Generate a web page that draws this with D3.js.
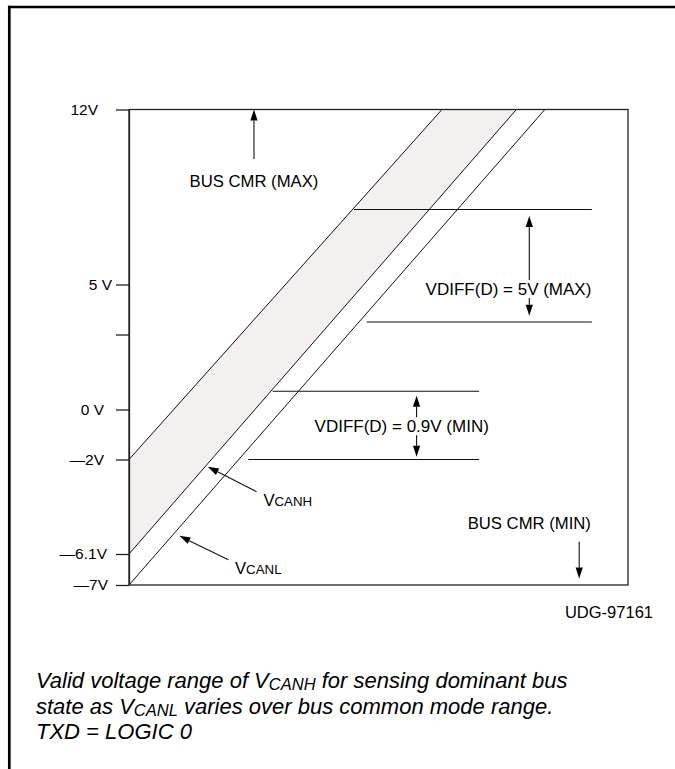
<!DOCTYPE html>
<html><head><meta charset="utf-8">
<script src="https://cdn.jsdelivr.net/npm/d3@7"></script>
<style>
html,body{margin:0;padding:0;background:#fff;}
svg{display:block;font-family:"Liberation Sans",Arial,Helvetica,sans-serif;}
</style></head><body>
<svg id="chart" width="675" height="769"></svg>
<script>
// ---- data (volts) ----
const yTickValues = [12, 5, 3, 0, -2, -6.1, -7];
const yTickLabels = ["12V", "5 V", "", "0 V", "\u20142V", "\u20146.1V", "\u20147V"];
const yBreaks = [-7, -6.1, -2, 12];        // drawn axis is not to scale below -2 V
const xDomain = [-7, 15.8];                // VCANL common-mode voltage
const vcanlLine = [[-7, -7], [12, 12]];
const vcanhLine = [[-7, -6.1], [10.7, 12]];
const vcanhMaxLine = [[-7, -2], [7.3, 12]];
const vdiffMaxLevels = [{y: 8.0, x0: 3.28, x1: 14.15}, {y: 3.5, x0: 3.86, x1: 14.15}];
const vdiffMinLevels = [{y: 0.73, x0: -0.44, x1: 9.0}, {y: -2.0, x0: -1.55, x1: 9.0}];
const vdiffMaxArrow = {x: 11.29, y0: 7.74, y1: 3.75, label: "VDIFF(D) = 5V (MAX)", tx: 10.34, ty: 4.6};
const vdiffMinArrow = {x: 6.14, y0: 0.55, y1: -1.89, label: "VDIFF(D) = 0.9V (MIN)", tx: 5.46, ty: -0.89};
const busMaxArrow = {x: -1.29, from: 10.02, to: 12, label: "BUS CMR (MAX)", tx: -1.29, ty: 8.9};
const busMinArrow = {x: 13.57, from: -5.57, to: -6.81, label: "BUS CMR (MIN)", tx: 11.29, ty: -5.0};
const vcanhLabel = {x0: -1.17, y0: -3.40, x1: -3.40, y1: -2.31, main: "V", sub: "CANH", tx: -0.86, ty: -4.0};
const vcanlLabel = {x0: -2.46, y0: -6.27, x1: -4.70, y1: -5.31, main: "V", sub: "CANL", tx: -2.16, ty: -6.69};
const udgLabel = "UDG-97161";
const captionLines = [
  [["Valid voltage range of V", false], ["CANH", true], [" for sensing dominant bus", false]],
  [["state as V", false], ["CANL", true], [" varies over bus common mode range.", false]],
  [["TXD = LOGIC 0", false]]
];

// ---- layout ----
const svg = d3.select("#chart");
const plot = {left: 129, right: 628, top: 109.5, bottom: 585};
const x = d3.scaleLinear().domain(xDomain).range([plot.left, plot.right]);
const y = d3.scaleLinear().domain(yBreaks).range([585, 554, 459.5, 109.5]);
// per-label right-edge offsets of the tick labels, as drawn in the original
const tickLabelShift = {"12V": -9, "5 V": 5, "0 V": -3, "\u20142V": -3, "\u20146.1V": 0, "\u20147V": 1};

// outer frame (top and left edges visible)
svg.append("line").attr("x1", 9.3).attr("x2", 9.3).attr("y1", 5.7).attr("y2", 769)
  .attr("stroke", "#000").attr("stroke-width", 2.7);
svg.append("line").attr("x1", 8).attr("x2", 675).attr("y1", 7).attr("y2", 7)
  .attr("stroke", "#000").attr("stroke-width", 2.7);

// shaded valid region
const region = [vcanhMaxLine[0], vcanhMaxLine[1], vcanhLine[1], vcanhLine[0]];
svg.append("path")
  .attr("d", d3.line().x(d => x(d[0])).y(d => y(d[1]))(region) + "Z")
  .attr("fill", "#f4f0f0").attr("stroke", "none");

// diagonal lines
const lineGen = d3.line().x(d => x(d[0])).y(d => y(d[1]));
[vcanlLine, vcanhLine, vcanhMaxLine].forEach(l => {
  svg.append("path").attr("d", lineGen(l)).attr("fill", "none")
    .attr("stroke", "#111").attr("stroke-width", 1);
});

// plot frame
svg.append("rect").attr("x", plot.left).attr("y", plot.top)
  .attr("width", plot.right - plot.left).attr("height", plot.bottom - plot.top)
  .attr("fill", "none").attr("stroke", "#222").attr("stroke-width", 1.3);

// y axis
const yAxis = d3.axisLeft(y).tickValues(yTickValues)
  .tickFormat((d, i) => yTickLabels[i]).tickSize(13).tickSizeOuter(0).tickPadding(9);
const gAxis = svg.append("g").attr("transform", `translate(${plot.left},0)`).call(yAxis);
gAxis.select(".domain").attr("stroke", "#222").attr("stroke-width", 1.3);
gAxis.selectAll(".tick line").attr("stroke", "#222").attr("stroke-width", 1.3);
gAxis.selectAll(".tick text").attr("fill", "#000").style("font-size", "15.5px")
  .style("font-family", "'Liberation Sans',Arial,sans-serif")
  .attr("dx", function() { return tickLabelShift[this.textContent] || 0; });

// level lines
[...vdiffMaxLevels, ...vdiffMinLevels].forEach(l => {
  svg.append("line").attr("x1", x(l.x0)).attr("x2", x(l.x1))
    .attr("y1", y(l.y)).attr("y2", y(l.y))
    .attr("stroke", "#111").attr("stroke-width", 1.2);
});

// arrow helper (pixel coords)
function arrow(x1, y1, x2, y2, len = 11, hw = 3.6) {
  const dx = x2 - x1, dy = y2 - y1, L = Math.hypot(dx, dy);
  const ux = dx / L, uy = dy / L;
  const bx = x2 - ux * len, by = y2 - uy * len;
  svg.append("line").attr("x1", x1).attr("y1", y1).attr("x2", bx).attr("y2", by)
    .attr("stroke", "#111").attr("stroke-width", 1.1);
  svg.append("path").attr("d",
    `M${x2},${y2}L${bx - uy * hw},${by + ux * hw}L${bx + uy * hw},${by - ux * hw}Z`)
    .attr("fill", "#000");
}

function labelWithBg(text, px, py, anchor, size) {
  const t = svg.append("text").attr("x", px).attr("y", py).attr("text-anchor", anchor)
    .style("font-size", size + "px").attr("fill", "#000").text(text);
  const bb = t.node().getBBox();
  svg.insert("rect", () => t.node()).attr("x", bb.x - 1).attr("y", bb.y + 0.5)
    .attr("width", bb.width + 2).attr("height", bb.height - 1).attr("fill", "#fff");
  return t;
}

// VDIFF double arrows
[vdiffMaxArrow, vdiffMinArrow].forEach(a => {
  const xm = x(a.x), ym = (y(a.y0) + y(a.y1)) / 2;
  arrow(xm, ym, xm, y(a.y0));
  arrow(xm, ym, xm, y(a.y1));
  labelWithBg(a.label, x(a.tx), y(a.ty), "middle", 17);
});

// bus CMR arrows
[busMaxArrow, busMinArrow].forEach(a => {
  arrow(x(a.x), y(a.from), x(a.x), y(a.to));
  svg.append("text").attr("x", x(a.tx)).attr("y", y(a.ty)).attr("text-anchor", "middle")
    .style("font-size", "16.7px").attr("fill", "#000").text(a.label);
});

// VCANH / VCANL labels
[vcanhLabel, vcanlLabel].forEach(a => {
  arrow(x(a.x0), y(a.y0), x(a.x1), y(a.y1), 11, 3.6);
  const t = svg.append("text").attr("x", x(a.tx)).attr("y", y(a.ty)).attr("fill", "#000");
  t.append("tspan").style("font-size", "16.7px").text(a.main);
  t.append("tspan").style("font-size", "13.3px").text(a.sub);
});

// figure id
svg.append("text").attr("x", 653).attr("y", 618).attr("text-anchor", "end")
  .style("font-size", "16.5px").attr("fill", "#000").text(udgLabel);

// caption
captionLines.forEach((line, i) => {
  const t = svg.append("text").attr("x", 36).attr("y", 688 + i * 25.5)
    .style("font-size", "22px").style("font-style", "italic").attr("fill", "#000");
  line.forEach(([s, sub]) => {
    if (sub) {
      t.append("tspan").attr("dy", 2).style("font-size", "16.5px").text(s);
    } else {
      const ts = t.append("tspan").text(s);
      if (t.selectAll("tspan").size() > 1) ts.attr("dy", -2);
    }
  });
});
</script>
</body></html>
